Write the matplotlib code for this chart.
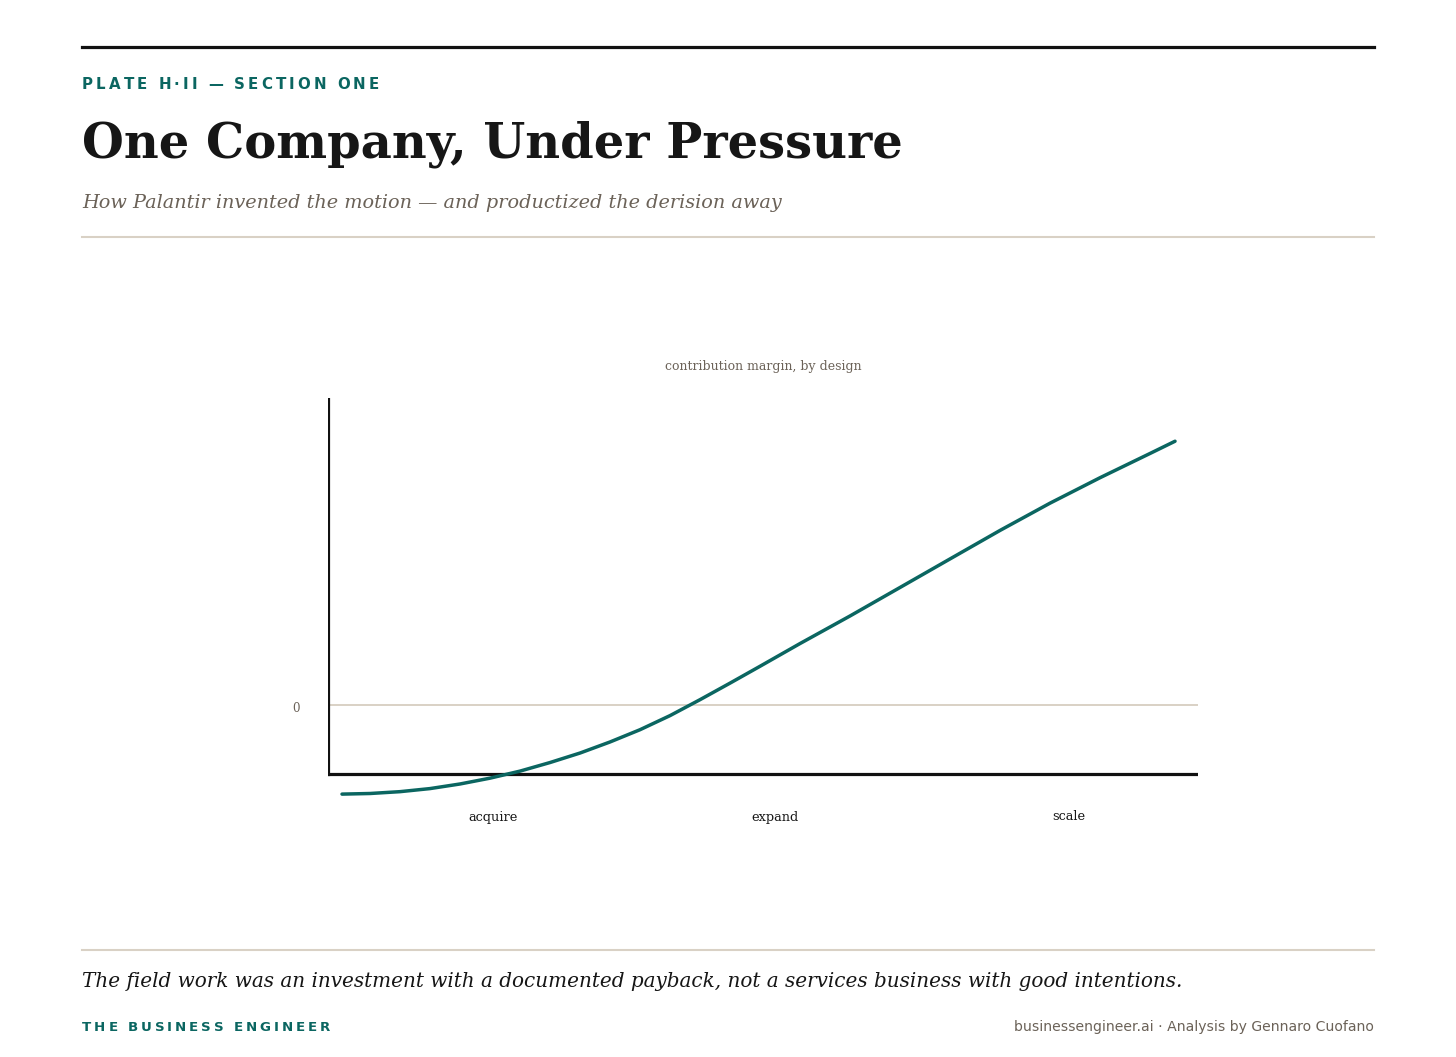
import matplotlib
matplotlib.use("Agg")

import matplotlib.pyplot as plt
from matplotlib.lines import Line2D

W, H = 1456, 1057

TEAL = "#0b6661"
INK = "#161616"
MUTED = "#6b6258"
RULE = "#d9d1c5"

SERIF = "DejaVu Serif"
SANS = "DejaVu Sans"

# data: contribution margin along the customer path (arbitrary units)
STAGES = ["acquire", "expand", "scale"]
STAGE_POS = [19.0, 51.4, 85.1]
progress = [1.61, 4.83, 8.28, 11.72, 15.17, 18.62, 22.07, 25.52, 28.97, 32.41,
            35.86, 39.31, 42.76, 46.21, 49.66, 54.25, 60.0, 65.75, 71.49, 77.24,
            82.99, 88.74, 94.48, 97.36]
margin = [-29.2, -29.0, -28.4, -27.4, -25.9, -24.0, -21.7, -18.9, -15.8, -12.2,
          -8.2, -3.6, 1.6, 7.0, 12.5, 19.9, 28.9, 38.2, 47.5, 56.8,
          65.7, 74.0, 81.9, 85.9]
AXIS_FLOOR = -22.8


def fx(px):
    return px / W


def fy(py):
    return 1 - py / H


fig = plt.figure(figsize=(W / 100, H / 100), dpi=100, facecolor="white")
renderer = fig.canvas.get_renderer()


def fit_text(x, y, s, width_px, **kw):
    """Place text and scale its font so it spans width_px."""
    t = fig.text(fx(x), fy(y), s, fontsize=10, **kw)
    w = t.get_window_extent(renderer).width
    t.set_fontsize(10 * width_px / w)
    return t


def spaced_text(x, y, s, width_px, fontsize, **kw):
    """Letter-spaced caps: lay out char by char to fill width_px."""
    widths = []
    for ch in s:
        if ch == " ":
            widths.append(fontsize * 100 / 72 * 0.32)
            continue
        t = fig.text(0, 0, ch, fontsize=fontsize, **kw)
        widths.append(t.get_window_extent(renderer).width)
        t.remove()
    gap = (width_px - sum(widths)) / (len(s) - 1)
    cx = x
    for ch, w in zip(s, widths):
        if ch != " ":
            fig.text(fx(cx), fy(y), ch, fontsize=fontsize, va="baseline", **kw)
        cx += w + gap


def hrule(y, color, lw):
    fig.add_artist(Line2D([fx(82), fx(1374)], [fy(y), fy(y)],
                          transform=fig.transFigure, color=color, lw=lw))


# ── HEADER ──
hrule(46.5, "#111111", 2.3)
spaced_text(82, 89.3, "PLATE H·II — SECTION ONE", 297, 10.8,
            color=TEAL, fontweight="bold", family=SANS)
fit_text(82, 158, "One Company, Under Pressure", 823,
         color=INK, fontweight="bold", family=SERIF, va="baseline")
fit_text(82, 208.5, "How Palantir invented the motion — and productized the derision away",
         701, color=MUTED, style="italic", family=SERIF, va="baseline")
hrule(237, RULE, 1.5)

# ── CHART ──
ax_top, ax_bot = 398, 810
ax = fig.add_axes([fx(328), fy(ax_bot), fx(1198) - fx(328), fy(ax_top) - fy(ax_bot)])
y_low = AXIS_FLOOR - (ax_bot - 774.5) / 3.065
ax.set_xlim(0, 100)
ax.set_ylim(y_low, 100)
ax.axis("off")

ax.axhline(0, color=RULE, lw=1.4, zorder=1)
ax.axhline(AXIS_FLOOR, color="#111111", lw=2.3, zorder=2)
ax.axvline(0, ymin=(AXIS_FLOOR - y_low) / (100 - y_low), ymax=1,
           color="#111111", lw=2.3, zorder=2)
ax.plot(progress, margin, color=TEAL, lw=2.5, solid_capstyle="round",
        solid_joinstyle="round", clip_on=False, zorder=3)

ax.text(-3.7, -1.3, "0", color=MUTED, fontsize=8.5, family=SERIF,
        ha="center", va="center")

lab = fit_text(763, 366.5, "contribution margin, by design", 198,
               color=MUTED, family=SERIF, ha="center", va="center")
for name, pos in zip(STAGES, STAGE_POS):
    ax.text(pos, -(817 - ax_bot) / (ax_bot - ax_top), name, color=INK,
            fontsize=lab.get_fontsize() * 1.03, family=SERIF, ha="center",
            va="center", transform=ax.get_xaxis_transform())

# ── FOOTER ──
hrule(950, RULE, 1.5)
fit_text(82, 987, "The field work was an investment with a documented payback, "
         "not a services business with good intentions.", 1102,
         color=INK, style="italic", family=SERIF, va="baseline")
spaced_text(82, 1031, "THE BUSINESS ENGINEER", 248, 9.6,
            color=TEAL, fontweight="bold", family=SANS)
fit_text(1374, 1031, "businessengineer.ai · Analysis by Gennaro Cuofano", 359,
         color=MUTED, family=SANS, ha="right", va="baseline")

fig.savefig("out.png", dpi=100, facecolor="white")
